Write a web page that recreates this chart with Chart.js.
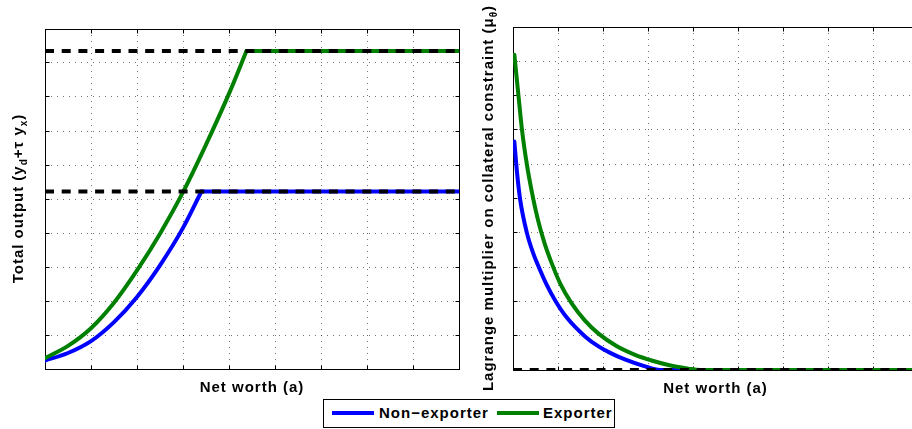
<!DOCTYPE html>
<html>
<head>
<meta charset="utf-8">
<title>Total output and collateral multiplier vs net worth</title>
<script src="https://cdn.jsdelivr.net/npm/chart.js@4.4.0/dist/chart.umd.min.js"></script>
<style>
html, body { margin: 0; padding: 0; background: #fff; }
#page { position: relative; width: 912px; height: 429px; overflow: hidden; }
canvas { position: absolute; top: 0; }
#leftChart { left: 0; }
#rightChart { left: 470px; }
#legend { position: absolute; left: 323px; top: 399px; width: 290px; height: 27px;
  border: 1px solid #000; background: #fff; }
#legend .swatch { position: absolute; top: 11px; width: 42px; height: 4px; }
#legend .label { position: absolute; top: 5px; font: bold 15px "Liberation Sans", Arial, sans-serif;
  line-height: 15px; letter-spacing: 1px; color: #000; white-space: nowrap; }
</style>
</head>
<body>
<div id="page">
  <canvas id="leftChart" width="470" height="429"></canvas>
  <canvas id="rightChart" width="450" height="429"></canvas>
  <div id="legend">
    <div class="swatch" style="left:8px;background:#0000ff"></div>
    <div class="label" style="left:55px">Non−exporter</div>
    <div class="swatch" style="left:173px;background:#008000"></div>
    <div class="label" style="left:219px">Exporter</div>
  </div>
</div>
<script>
// left panel: total output
var nonExpNetWorth = [0, 0.5, 1, 1.5, 2, 2.5, 3, 3.4];
var nonExpOutput   = [0.25, 0.47, 0.82, 1.38, 2.12, 3.05, 4.15, 5.22];
var expNetWorth    = [0, 0.5, 1, 1.5, 2, 2.5, 3, 3.5, 4, 4.38];
var expOutput      = [0.32, 0.68, 1.2, 1.95, 2.9, 3.98, 5.2, 6.6, 8.1, 9.35];
var nonExpOutputCap = 5.22;
var expOutputCap    = 9.35;

// right panel: lagrange multiplier
var nonExpMultNetWorth = [0.03, 0.09, 0.16, 0.31, 0.45, 0.57, 0.75, 0.94, 1.2, 1.6, 1.9, 2.16, 2.5, 2.9, 3.27, 9];
var nonExpMult         = [6.66, 5.75, 4.96, 3.99, 3.4, 3.01, 2.48, 2.02, 1.52, 0.98, 0.69, 0.5, 0.3, 0.12, 0, 0];
var expMultNetWorth    = [0.03, 0.12, 0.2, 0.31, 0.41, 0.55, 0.7, 0.87, 1.05, 1.3, 1.6, 1.9, 2.3, 2.7, 3.1, 3.5, 3.9, 4.16, 9];
var expMult            = [9.19, 8.02, 7.0, 5.98, 5.25, 4.4, 3.7, 3.08, 2.52, 1.95, 1.44, 1.06, 0.7, 0.45, 0.27, 0.13, 0.04, 0, 0];
var multFloor = 0;

var netWorthMin = 0, netWorthMax = 9;
var valueMin = 0, valueMax = 10;

var BLUE = '#0000ff', GREEN = '#008000';
var MAIN_FONT = 'bold 15px "Liberation Sans", Arial, sans-serif';
var SUB_FONT = 'bold 10px "Liberation Sans", Arial, sans-serif';

function pts(xs, ys) {
	return xs.map(function (x, i) { return {x: x, y: ys[i]}; });
}
function flat(x0, x1, y) {
	return [{x: x0, y: y}, {x: x1, y: y}];
}
function align(p) { return Math.round(p - 0.5) + 0.5; }

function drawParts(ctx, parts) {
	var total = 0;
	parts.forEach(function (p) {
		ctx.font = p[1] ? SUB_FONT : MAIN_FONT;
		total += ctx.measureText(p[0]).width;
	});
	var x = -total / 2;
	parts.forEach(function (p) {
		ctx.font = p[1] ? SUB_FONT : MAIN_FONT;
		ctx.fillText(p[0], x, p[1] ? 4 : 0);
		x += ctx.measureText(p[0]).width;
	});
}

// matlab style box, inward ticks and axis labels
var framePlugin = {
	id: 'frame',
	beforeDatasetsDraw: function (chart) {
		var ctx = chart.ctx, a = chart.chartArea;
		var sx = chart.scales.x, sy = chart.scales.y;
		var L = align(a.left), R = align(a.right), T = align(a.top), B = align(a.bottom);
		ctx.save();
		ctx.strokeStyle = '#000';
		ctx.lineWidth = 1;
		ctx.strokeRect(L, T, R - L, B - T);
		ctx.beginPath();
		sx.ticks.forEach(function (t) {
			var p = align(sx.getPixelForValue(t.value));
			ctx.moveTo(p, B); ctx.lineTo(p, B - 4);
			ctx.moveTo(p, T); ctx.lineTo(p, T + 4);
		});
		sy.ticks.forEach(function (t) {
			var p = align(sy.getPixelForValue(t.value));
			ctx.moveTo(L, p); ctx.lineTo(L + 4, p);
			ctx.moveTo(R, p); ctx.lineTo(R - 4, p);
		});
		ctx.stroke();
		ctx.restore();
	},
	afterDraw: function (chart, args, opts) {
		var ctx = chart.ctx, a = chart.chartArea;
		ctx.save();
		ctx.fillStyle = '#000';
		ctx.textAlign = 'left';
		ctx.textBaseline = 'alphabetic';
		ctx.letterSpacing = '1px';
		ctx.translate((a.left + a.right) / 2, opts.xTitleY);
		drawParts(ctx, [[opts.xTitle, 0]]);
		ctx.restore();

		ctx.save();
		ctx.fillStyle = '#000';
		ctx.textAlign = 'left';
		ctx.textBaseline = 'alphabetic';
		ctx.letterSpacing = '1px';
		ctx.translate(opts.yTitleX, (a.top + a.bottom) / 2 - 0.5);
		ctx.rotate(-Math.PI / 2);
		drawParts(ctx, opts.yTitle);
		ctx.restore();
	}
};

function makeChart(id, datasets, padding, titles) {
	var gridOpts = {color: 'rgba(0,0,0,0.55)', lineWidth: 1, drawTicks: false};
	var borderOpts = {display: false, dash: [1, 5]};
	return new Chart(document.getElementById(id), {
		type: 'line',
		data: {datasets: datasets},
		plugins: [framePlugin],
		options: {
			responsive: false,
			animation: false,
			events: [],
			layout: {padding: padding},
			elements: {point: {radius: 0}},
			plugins: {legend: {display: false}, tooltip: {enabled: false}, frame: titles},
			scales: {
				x: {type: 'linear', min: netWorthMin, max: netWorthMax,
					ticks: {display: false, stepSize: 1}, grid: gridOpts, border: borderOpts},
				y: {type: 'linear', min: valueMin, max: valueMax,
					ticks: {display: false, stepSize: 1}, grid: gridOpts, border: borderOpts}
			}
		}
	});
}

function curve(data, color, order, smooth) {
	return {data: data, borderColor: color, borderWidth: 4, fill: false, order: order,
		cubicInterpolationMode: smooth ? 'monotone' : 'default', tension: 0,
		borderCapStyle: 'round', borderJoinStyle: 'round'};
}
function dashed(data) {
	return {data: data, borderColor: '#000', borderWidth: 4, fill: false, order: 1,
		borderDash: [9, 7.7], borderCapStyle: 'butt'};
}

var nonExpLast = nonExpNetWorth[nonExpNetWorth.length - 1];
var expLast = expNetWorth[expNetWorth.length - 1];

makeChart('leftChart', [
	curve(pts(nonExpNetWorth, nonExpOutput), BLUE, 3, true),
	curve(flat(nonExpLast, netWorthMax, nonExpOutputCap), BLUE, 3, false),
	curve(pts(expNetWorth, expOutput), GREEN, 2, true),
	curve(flat(expLast, netWorthMax, expOutputCap), GREEN, 2, false),
	dashed(flat(netWorthMin, netWorthMax, nonExpOutputCap)),
	dashed(flat(netWorthMin, netWorthMax, expOutputCap))
], {left: 45, top: 29, right: 11, bottom: 60}, {
	xTitle: 'Net worth (a)', xTitleY: 392,
	yTitleX: 23,
	yTitle: [['Total output (y', 0], ['d', 1], ['+τ y', 0], ['x', 1], [')', 0]]
});

makeChart('rightChart', [
	curve(pts(nonExpMultNetWorth, nonExpMult), BLUE, 3, true),
	curve(pts(expMultNetWorth, expMult), GREEN, 2, true),
	dashed(flat(netWorthMin, netWorthMax, multFloor))
], {left: 43, top: 27, right: 2, bottom: 59}, {
	xTitle: 'Net worth (a)', xTitleY: 393,
	yTitleX: 22.5,
	yTitle: [['Lagrange multiplier on collateral constraint (μ', 0], ['θ', 1], [')', 0]]
});
</script>
</body>
</html>
